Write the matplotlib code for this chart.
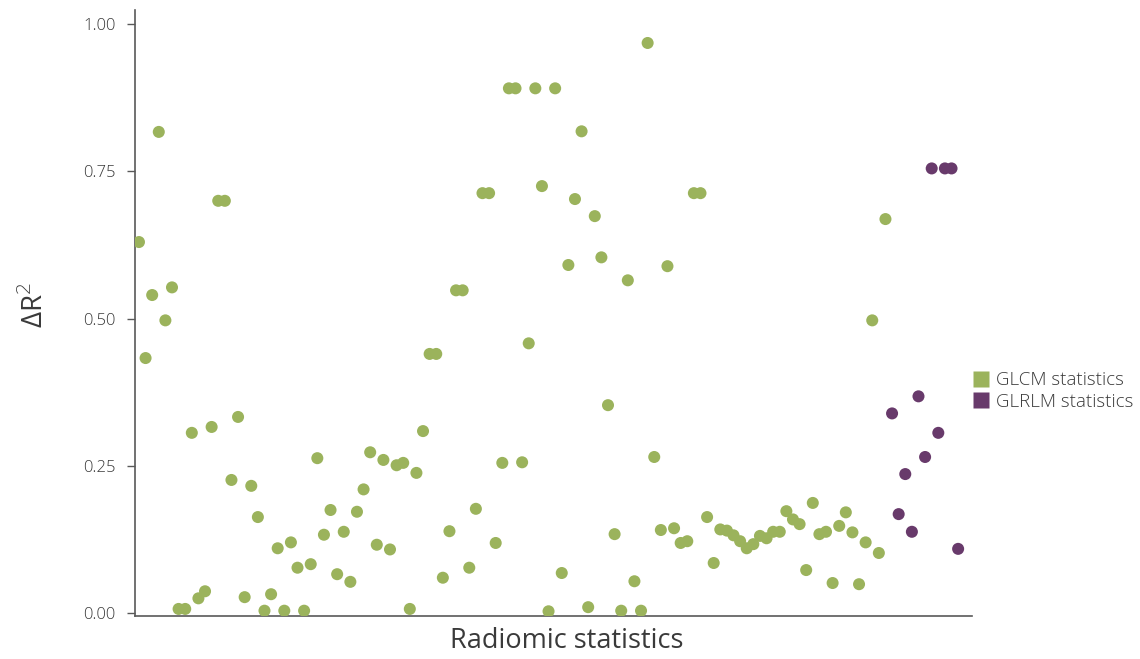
import matplotlib
matplotlib.use("Agg")
import matplotlib.pyplot as plt
from matplotlib.lines import Line2D
import numpy as np

# Change in R^2 for each radiomic statistic, in plotting order
glcm_values = [
    0.630, 0.433, 0.540, 0.817, 0.497, 0.553, 0.007, 0.007, 0.306, 0.025,
    0.037, 0.316, 0.700, 0.700, 0.226, 0.333, 0.027, 0.216, 0.163, 0.004,
    0.032, 0.110, 0.004, 0.120, 0.077, 0.004, 0.083, 0.263, 0.133, 0.175,
    0.066, 0.138, 0.053, 0.172, 0.210, 0.273, 0.116, 0.260, 0.108, 0.251,
    0.255, 0.007, 0.238, 0.309, 0.440, 0.440, 0.060, 0.139, 0.548, 0.548,
    0.077, 0.177, 0.713, 0.713, 0.119, 0.255, 0.891, 0.891, 0.256, 0.458,
    0.891, 0.725, 0.003, 0.891, 0.068, 0.591, 0.703, 0.818, 0.010, 0.674,
    0.604, 0.353, 0.134, 0.004, 0.565, 0.054, 0.004, 0.968, 0.265, 0.141,
    0.589, 0.144, 0.119, 0.122, 0.713, 0.713, 0.163, 0.085, 0.142, 0.140,
    0.132, 0.122, 0.110, 0.117, 0.131, 0.127, 0.138, 0.138, 0.173, 0.159,
    0.151, 0.073, 0.187, 0.134, 0.138, 0.051, 0.148, 0.171, 0.137, 0.049,
    0.120, 0.497, 0.102, 0.669,
]
glrlm_values = [0.339, 0.168, 0.236, 0.138, 0.368, 0.265, 0.755, 0.306,
                0.755, 0.755, 0.109]

y_ticks = [0.0, 0.25, 0.5, 0.75, 1.0]
y_tick_labels = ["0.00", "0.25", "0.50", "0.75", "1.00"]
series_labels = ["GLCM statistics", "GLRLM statistics"]

green = "#9BB35C"
purple = "#683A6B"
text_col = "#3A3A3A"

plt.rcParams["font.family"] = ["Open Sans", "DejaVu Sans"]
plt.rcParams["font.weight"] = "light"

fig = plt.figure(figsize=(11.4, 6.59), dpi=100)
ax = fig.add_axes([135 / 1140, 43 / 659, (972 - 135) / 1140, (616 - 10) / 659])

x_glcm = np.arange(len(glcm_values))
x_glrlm = np.arange(len(glcm_values), len(glcm_values) + len(glrlm_values))

ax.scatter(x_glcm, glcm_values, s=75, color=green, edgecolors="none", zorder=3)
ax.scatter(x_glrlm, glrlm_values, s=75, color=purple, edgecolors="none", zorder=3)

n_total = len(glcm_values) + len(glrlm_values)
ax.set_xlim(-0.6, n_total + 1.1)
ax.set_ylim(-0.005, 1.024)

ax.spines["top"].set_visible(False)
ax.spines["right"].set_visible(False)
for side in ("left", "bottom"):
    ax.spines[side].set_color("#595959")
    ax.spines[side].set_linewidth(1.2)

ax.set_xticks([])
ax.set_yticks(y_ticks)
ax.set_yticklabels(y_tick_labels)
ax.tick_params(axis="y", direction="out", length=6, width=1, color="#595959",
               labelsize=12, labelcolor=text_col, pad=8)

ax.set_xlabel("Radiomic statistics", fontsize=19.5, color=text_col,
              labelpad=8, x=0.5155)
ax.set_ylabel("ΔR$^2$", fontsize=20, color=text_col, labelpad=24, y=0.513)

handles = [
    Line2D([], [], marker="s", linestyle="none", markersize=12,
           markerfacecolor=green, markeredgecolor="none"),
    Line2D([], [], marker="s", linestyle="none", markersize=12,
           markerfacecolor=purple, markeredgecolor="none"),
]
leg = fig.legend(handles, series_labels, loc="center left",
                 bbox_to_anchor=(964 / 1140, 1 - 391 / 659), frameon=False,
                 fontsize=13.5, handletextpad=0.3, labelspacing=0.2,
                 handlelength=1.0, borderaxespad=0)
for t in leg.get_texts():
    t.set_color(text_col)

fig.savefig("out.png", dpi=100)
